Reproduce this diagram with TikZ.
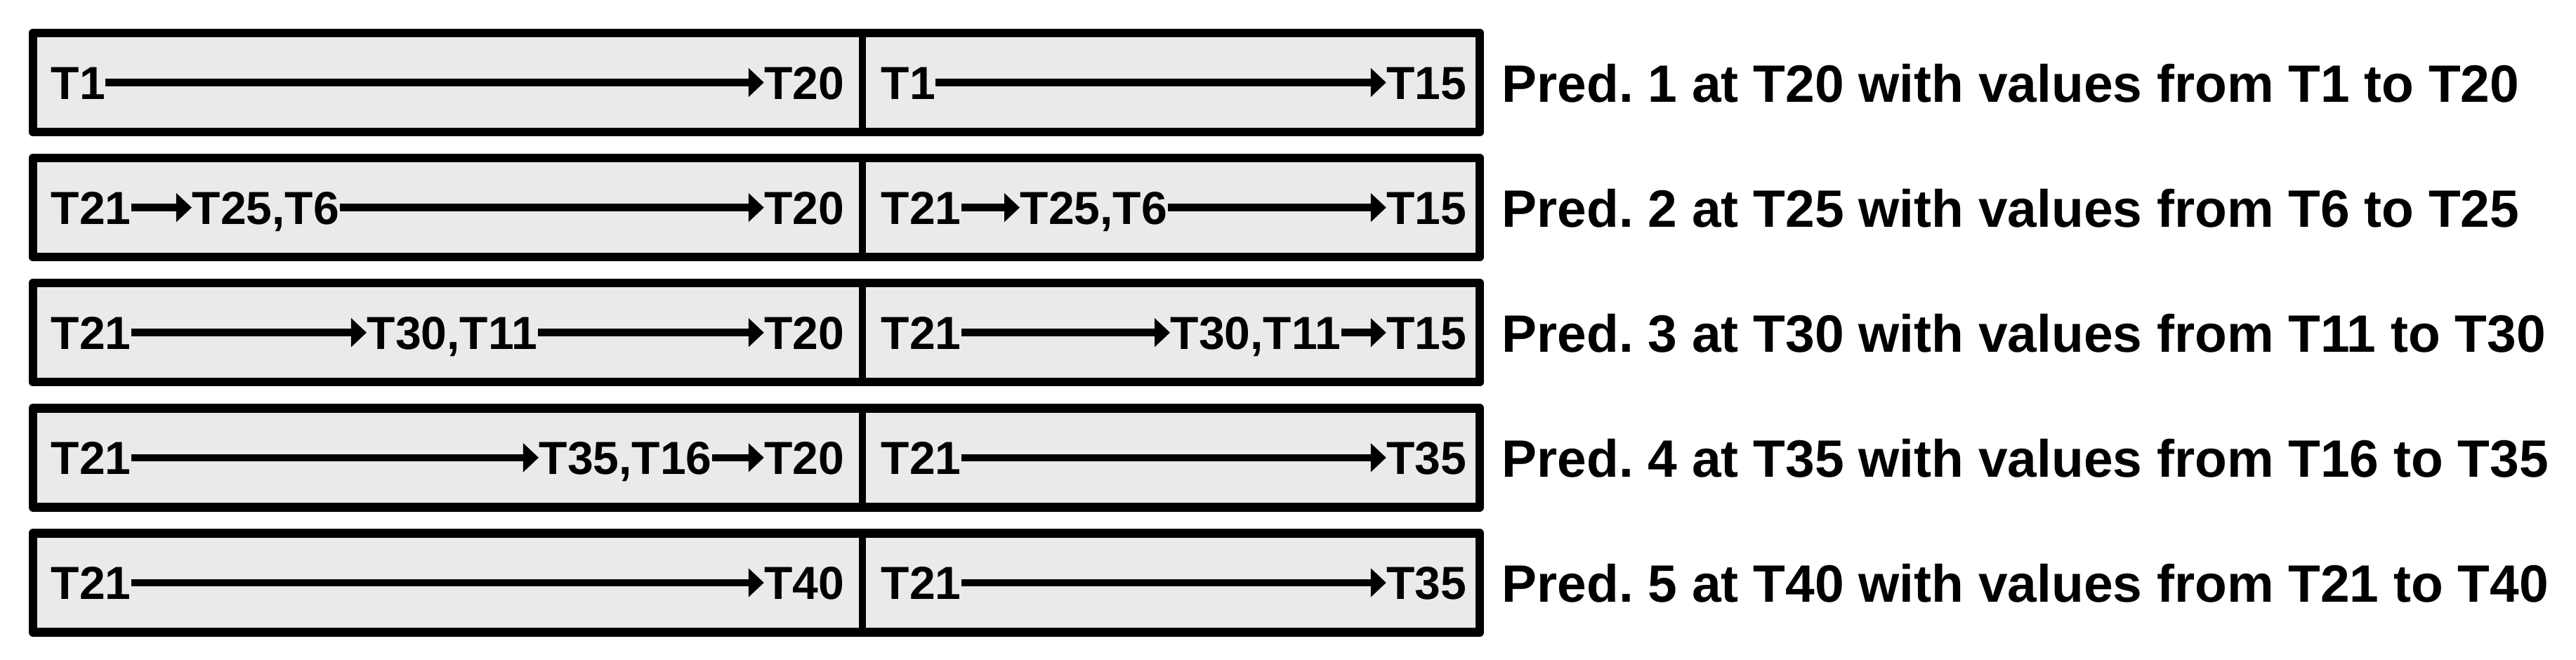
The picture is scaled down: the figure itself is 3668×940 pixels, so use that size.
\documentclass[tikz,border=0pt]{standalone}
\usepackage{fontspec}
\setmainfont{Liberation Sans}
\usetikzlibrary{arrows.meta,positioning}
\frenchspacing
\definecolor{boxgray}{RGB}{234,234,234}
\newcommand\boxtextfont{\bfseries\fontsize{18.78pt}{22pt}\selectfont}
\newcommand\predtextfont{\bfseries\fontsize{21.3pt}{25pt}\selectfont}
\tikzset{
        % Row frames
        rowbox/.style={draw=black, fill=boxgray, line width=0.125cm, line join=round},
        divider/.style={draw=black, line width=0.1cm},
        % Time step labels
        tlabel/.style={inner sep=0pt, font=\boxtextfont, text height=13.45pt, text depth=0pt},
        tstart/.style={tlabel, anchor=west},
        tmid/.style={tlabel, anchor=west},
        tend/.style={tlabel, anchor=east},
        % Prediction labels
        predlabel/.style={inner sep=0pt, anchor=west, font=\predtextfont, text height=15.25pt, text depth=0pt},
        % Arrows between time steps
        timeline/.style={line width=0.105cm, -{Triangle[length=0.22cm, width=0.40cm]}}
}
\begin{document}
\begin{tikzpicture}[x=0.01cm, y=-0.01cm]
            \useasboundingbox (0,0) rectangle (3668,940);
            \foreach \r in {1,...,5} {
                \pgfmathsetmacro\yc{117.5+178.1*(\r-1)}
                \draw[rowbox] (47,\yc-70.5) rectangle (2107,\yc+70.5);
                \draw[divider] (1228,\yc-70.5) -- (1228,\yc+70.5);
            }
            % Row 1
            \node[tstart] (a1) at (72,117.5) {T1};
            \node[tend] (a2) at (1203,117.5) {T20};
            \node[tstart] (b1) at (1254,117.5) {T1};
            \node[tend] (b2) at (2089,117.5) {T15};
            \node[predlabel] (p1) at (2138,119) {Pred. 1 at T20 with values from T1 to T20};
            \draw[timeline] (a1.east) -- (a2.west);
            \draw[timeline] (b1.east) -- (b2.west);
            % Row 2
            \node[tstart] (c1) at (72,295.6) {T21};
            \node[tmid] (c2) at (273,295.6) {T25,T6};
            \node[tend] (c3) at (1203,295.6) {T20};
            \node[tstart] (d1) at (1254,295.6) {T21};
            \node[tmid] (d2) at (1452,295.6) {T25,T6};
            \node[tend] (d3) at (2089,295.6) {T15};
            \node[predlabel] (p2) at (2138,297) {Pred. 2 at T25 with values from T6 to T25};
            \draw[timeline] (c1.east) -- (c2.west);
            \draw[timeline] (c2.east) -- (c3.west);
            \draw[timeline] (d1.east) -- (d2.west);
            \draw[timeline] (d2.east) -- (d3.west);
            % Row 3
            \node[tstart] (e1) at (72,473.7) {T21};
            \node[tmid] (e2) at (522,473.7) {T30,T11};
            \node[tend] (e3) at (1203,473.7) {T20};
            \node[tstart] (f1) at (1254,473.7) {T21};
            \node[tmid] (f2) at (1666,473.7) {T30,T11};
            \node[tend] (f3) at (2089,473.7) {T15};
            \node[predlabel] (p3) at (2138,475) {Pred. 3 at T30 with values from T11 to T30};
            \draw[timeline] (e1.east) -- (e2.west);
            \draw[timeline] (e2.east) -- (e3.west);
            \draw[timeline] (f1.east) -- (f2.west);
            \draw[timeline] (f2.east) -- (f3.west);
            % Row 4
            \node[tstart] (g1) at (72,651.8) {T21};
            \node[tmid] (g2) at (767,651.8) {T35,T16};
            \node[tend] (g3) at (1203,651.8) {T20};
            \node[tstart] (h1) at (1254,651.8) {T21};
            \node[tend] (h2) at (2089,651.8) {T35};
            \node[predlabel] (p4) at (2138,653) {Pred. 4 at T35 with values from T16 to T35};
            \draw[timeline] (g1.east) -- (g2.west);
            \draw[timeline] (g2.east) -- (g3.west);
            \draw[timeline] (h1.east) -- (h2.west);
            % Row 5
            \node[tstart] (k1) at (72,829.9) {T21};
            \node[tend] (k2) at (1203,829.9) {T40};
            \node[tstart] (m1) at (1254,829.9) {T21};
            \node[tend] (m2) at (2089,829.9) {T35};
            \node[predlabel] (p5) at (2138,831) {Pred. 5 at T40 with values from T21 to T40};
            \draw[timeline] (k1.east) -- (k2.west);
            \draw[timeline] (m1.east) -- (m2.west);
\end{tikzpicture}
\end{document}
